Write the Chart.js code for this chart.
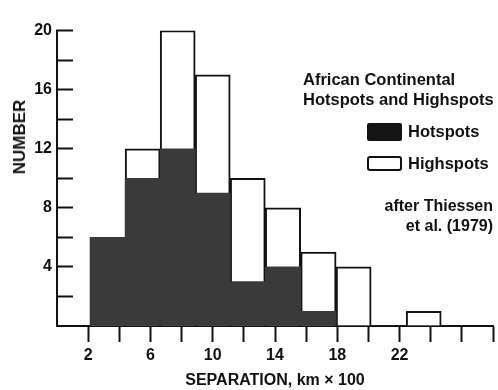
<!DOCTYPE html>
<html>
<head>
<meta charset="utf-8">
<script src="https://cdn.jsdelivr.net/npm/chart.js@4.4.1/dist/chart.umd.min.js"></script>
<style>
  body { margin: 0; background: #fff; }
  #wrap { position: relative; width: 498px; height: 390px; font-family: "Liberation Sans", Arial, sans-serif; font-weight: bold; color: #111; }
  #chart { position: absolute; left: 0; top: 0; }
  .txt { position: absolute; white-space: nowrap; }
  #ytitle { left: 20px; top: 137px; font-size: 17px; transform: translate(-50%, -50%) rotate(-90deg); }
  #legTitle { left: 303px; top: 69px; font-size: 16.5px; line-height: 20px; }
  .box { position: absolute; width: 35px; box-sizing: border-box; border-radius: 2px; }
  #boxHot { left: 367px; top: 123px; height: 18px; background: #151515; }
  #boxHigh { left: 367px; top: 156px; height: 15px; background: #fff; border: 2.5px solid #111; border-radius: 3px; }
  .leg { left: 408px; font-size: 16.5px; line-height: 20px; }
  #credit { right: 5px; top: 196px; font-size: 16px; line-height: 20px; text-align: right; }
</style>
</head>
<body>
<div id="wrap">
  <canvas id="chart" width="498" height="390"></canvas>
  <div class="txt" id="ytitle">NUMBER</div>
  <div class="txt" id="legTitle">African Continental<br>Hotspots and Highspots</div>
  <div class="box" id="boxHot"></div>
  <div class="txt leg" style="top:121px">Hotspots</div>
  <div class="box" id="boxHigh"></div>
  <div class="txt leg" style="top:153px">Highspots</div>
  <div class="txt" id="credit">after Thiessen<br>et al. (1979)</div>
</div>
<script>
// histogram bins (centre of each drawn bar, km x 100)
const binCenters = [3.25, 5.5, 7.75, 10.0, 12.25, 14.5, 16.8, 19.05, 21.3, 23.55];
const hotspots = [6, 10, 12, 9, 3, 4, 1, 0, 0, 0];
const highspots = [6, 12, 20, 17, 10, 8, 5, 4, 0, 1];
const xLabels = [2, 6, 10, 14, 18, 22];
const yLabels = [4, 8, 12, 16, 20];

const ink = '#111';
const tickFont = { family: '"Liberation Sans", Arial, sans-serif', size: 16, weight: 'bold' };
const hideZero = c => (c.tick && c.tick.value === 0) ? 'rgba(0,0,0,0)' : ink;

function toPoints(values) {
    return binCenters.map((x, i) => ({ x: x, y: values[i] }));
}

const ctx = document.getElementById('chart').getContext('2d');
new Chart(ctx, {
    type: 'bar',
    data: {
        datasets: [{
            label: 'Hotspots',
            data: toPoints(hotspots),
            stack: 'bins',
            backgroundColor: '#3a3a3a',
            borderWidth: 0,
            barThickness: 'flex',
            categoryPercentage: 1,
            barPercentage: 1
        }, {
            label: 'Highspots',
            data: toPoints(highspots),
            stack: 'bins',
            backgroundColor: '#fff',
            borderColor: ink,
            borderWidth: 2,
            borderSkipped: 'start',
            barThickness: 'flex',
            categoryPercentage: 1,
            barPercentage: 1
        }]
    },
    options: {
        responsive: false,
        animation: false,
        devicePixelRatio: 1,
        layout: { padding: { top: 16, right: 5, left: 0, bottom: 0 } },
        plugins: { legend: { display: false }, tooltip: { enabled: false } },
        scales: {
            x: {
                type: 'linear',
                min: 0,
                max: 28,
                offset: false,
                stacked: true, // both series share one slot, so bars overlap
                afterFit: s => { s.height = 64; },
                ticks: {
                    stepSize: 2,
                    autoSkip: false,
                    maxRotation: 0,
                    padding: 4,
                    color: ink,
                    font: tickFont,
                    callback: v => xLabels.includes(v) ? String(v) : ''
                },
                grid: { offset: false, drawOnChartArea: false, tickLength: 16, tickWidth: 2, tickColor: hideZero },
                border: { display: true, color: ink, width: 2 },
                title: { display: true, text: 'SEPARATION, km × 100', color: ink, font: tickFont, padding: 0 }
            },
            y: {
                min: 0,
                max: 20,
                stacked: false,
                afterFit: s => { s.width = 57; },
                ticks: {
                    stepSize: 2,
                    autoSkip: false,
                    padding: 21,
                    color: ink,
                    font: tickFont,
                    callback: v => yLabels.includes(v) ? String(v) : ''
                },
                // negative length puts the tick marks inside the plot, as in the original
                grid: { drawOnChartArea: false, tickLength: -16, tickWidth: 2, tickColor: hideZero },
                border: { display: true, color: ink, width: 2 }
            }
        }
    }
});
</script>
</body>
</html>
